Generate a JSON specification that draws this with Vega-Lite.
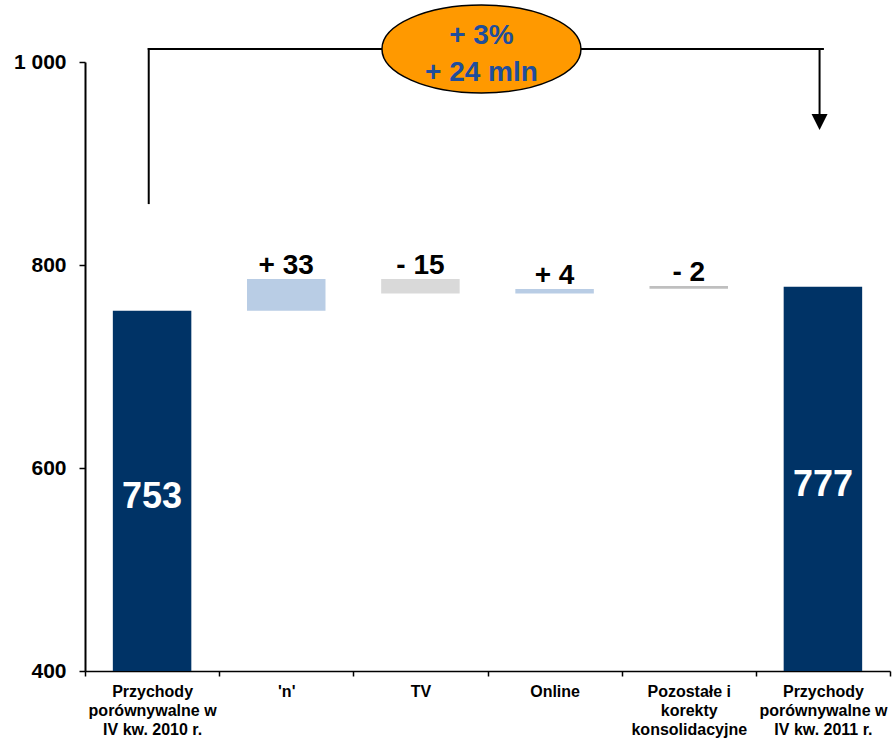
{
  "$schema": "https://vega.github.io/schema/vega-lite/v6.json",
  "autosize": "none",
  "width": 805,
  "height": 609,
  "padding": {"left": 85, "top": 62, "right": 3, "bottom": 72},
  "background": "white",
  "config": {
    "view": {"stroke": null},
    "font": "Liberation Sans",
    "axis": {"domainColor": "black", "tickColor": "black", "labelColor": "black", "labelFont": "Liberation Sans", "labelFontWeight": "bold", "grid": false},
    "axisX": {"tickBand": "extent", "tickSize": 5, "domainWidth": 1.5, "tickWidth": 1.5, "labelFontSize": 16, "labelAngle": 0, "labelPadding": 7, "labelLineHeight": 19, "labelBaseline": "top", "labelOverlap": false, "labelLimit": 200},
    "axisY": {"tickSize": 6, "domainWidth": 2, "tickWidth": 1.5, "labelFontSize": 21, "labelPadding": 13}
  },
  "datasets": {
    "bars": [
      {"cat": "Przychody|porównywalne w|IV kw. 2010 r.", "start": 400, "end": 755, "label": "753", "kind": "total"},
      {"cat": "'n'", "start": 755, "end": 786.2, "label": "+ 33", "kind": "increase"},
      {"cat": "TV", "start": 786.2, "end": 771.8, "label": "- 15", "kind": "decrease"},
      {"cat": "Online", "start": 771.8, "end": 776.4, "label": "+ 4", "kind": "increase"},
      {"cat": "Pozostałe i|korekty|konsolidacyjne", "start": 779.3, "end": 776.6, "label": "- 2", "kind": "other"},
      {"cat": "Przychody|porównywalne w|IV kw. 2011 r.", "start": 400, "end": 778.6, "label": "777", "kind": "total"}
    ],
    "hline": [
      {"cat": "Przychody|porównywalne w|IV kw. 2010 r.", "cat2": "Przychody|porównywalne w|IV kw. 2011 r.", "y": 1012.8}
    ],
    "vlines": [
      {"cat": "Przychody|porównywalne w|IV kw. 2010 r.", "y": 1012.8, "y2": 861},
      {"cat": "Przychody|porównywalne w|IV kw. 2011 r.", "y": 1012.8, "y2": 946}
    ],
    "arrow": [
      {"cat": "Przychody|porównywalne w|IV kw. 2011 r.", "y": 941}
    ],
    "bubble": [
      {"cat": "TV", "y": 1012.8}
    ],
    "bubbletext": [
      {"cat": "TV", "y": 1025.6, "text": "+ 3%"},
      {"cat": "TV", "y": 989.6, "text": "+ 24 mln"}
    ]
  },
  "layer": [
    {
      "data": {"name": "bars"},
      "mark": {"type": "bar", "width": {"band": 0.585}},
      "encoding": {
        "x": {
          "field": "cat", "type": "nominal", "title": null,
          "scale": {"domain": ["Przychody|porównywalne w|IV kw. 2010 r.", "'n'", "TV", "Online", "Pozostałe i|korekty|konsolidacyjne", "Przychody|porównywalne w|IV kw. 2011 r."], "paddingInner": 0, "paddingOuter": 0},
          "axis": {"labelExpr": "split(datum.label, '|')"}
        },
        "y": {
          "field": "start", "type": "quantitative", "title": null,
          "scale": {"domain": [400, 1000], "nice": false, "zero": false},
          "axis": {"values": [400, 600, 800, 1000], "labelExpr": "datum.value == 1000 ? '1 000' : datum.label"}
        },
        "y2": {"field": "end"},
        "color": {
          "field": "kind", "type": "nominal", "legend": null,
          "scale": {"domain": ["total", "increase", "decrease", "other"], "range": ["#003366", "#b9cde5", "#d9d9d9", "#bfbfbf"]}
        }
      }
    },
    {
      "data": {"name": "bars"},
      "transform": [{"filter": "datum.kind == 'increase'"}],
      "mark": {"type": "text", "font": "Liberation Sans", "fontWeight": "bold", "fontSize": 28, "baseline": "alphabetic", "dy": -5, "color": "black"},
      "encoding": {
        "x": {"field": "cat", "type": "nominal", "title": null},
        "y": {"field": "end", "type": "quantitative", "title": null},
        "text": {"field": "label"}
      }
    },
    {
      "data": {"name": "bars"},
      "transform": [{"filter": "datum.kind == 'decrease' || datum.kind == 'other'"}],
      "mark": {"type": "text", "font": "Liberation Sans", "fontWeight": "bold", "fontSize": 28, "baseline": "alphabetic", "dy": -5, "color": "black"},
      "encoding": {
        "x": {"field": "cat", "type": "nominal", "title": null},
        "y": {"field": "start", "type": "quantitative", "title": null},
        "text": {"field": "label"}
      }
    },
    {
      "data": {"name": "bars"},
      "transform": [{"filter": "datum.kind == 'total'"}, {"calculate": "(datum.start + datum.end) / 2", "as": "mid"}],
      "mark": {"type": "text", "font": "Liberation Sans", "fontWeight": "bold", "fontSize": 36, "baseline": "middle", "dy": 6, "color": "white"},
      "encoding": {
        "x": {"field": "cat", "type": "nominal", "title": null},
        "y": {"field": "mid", "type": "quantitative", "title": null},
        "text": {"field": "label"}
      }
    },
    {
      "data": {"name": "hline"},
      "mark": {"type": "rule", "color": "black", "strokeWidth": 2, "strokeCap": "square"},
      "encoding": {
        "x": {"field": "cat", "type": "nominal", "title": null, "bandPosition": 0.475},
        "x2": {"field": "cat2"},
        "y": {"field": "y", "type": "quantitative", "title": null}
      }
    },
    {
      "data": {"name": "vlines"},
      "mark": {"type": "rule", "color": "black", "strokeWidth": 2, "strokeCap": "square"},
      "encoding": {
        "x": {"field": "cat", "type": "nominal", "title": null, "bandPosition": 0.475},
        "y": {"field": "y", "type": "quantitative", "title": null},
        "y2": {"field": "y2"}
      }
    },
    {
      "data": {"name": "arrow"},
      "mark": {"type": "point", "shape": "M-1,-1L1,-1L0,1Z", "filled": true, "size": 256, "color": "black", "opacity": 1},
      "encoding": {
        "x": {"field": "cat", "type": "nominal", "title": null, "bandPosition": 0.475},
        "y": {"field": "y", "type": "quantitative", "title": null}
      }
    },
    {
      "data": {"name": "bubble"},
      "mark": {"type": "point", "shape": "M-1,0A1,0.442,0,1,1,1,0A1,0.442,0,1,1,-1,0Z", "filled": true, "size": 39601, "fill": "#ff9900", "stroke": "black", "strokeWidth": 1.5, "opacity": 1, "fillOpacity": 1},
      "encoding": {
        "x": {"field": "cat", "type": "nominal", "title": null, "bandPosition": 0.955},
        "y": {"field": "y", "type": "quantitative", "title": null}
      }
    },
    {
      "data": {"name": "bubbletext"},
      "mark": {"type": "text", "font": "Liberation Sans", "fontWeight": "bold", "fontSize": 28, "baseline": "middle", "align": "center", "color": "#1f4e9c"},
      "encoding": {
        "x": {"field": "cat", "type": "nominal", "title": null, "bandPosition": 0.955},
        "y": {"field": "y", "type": "quantitative", "title": null},
        "text": {"field": "text"}
      }
    }
  ]
}
